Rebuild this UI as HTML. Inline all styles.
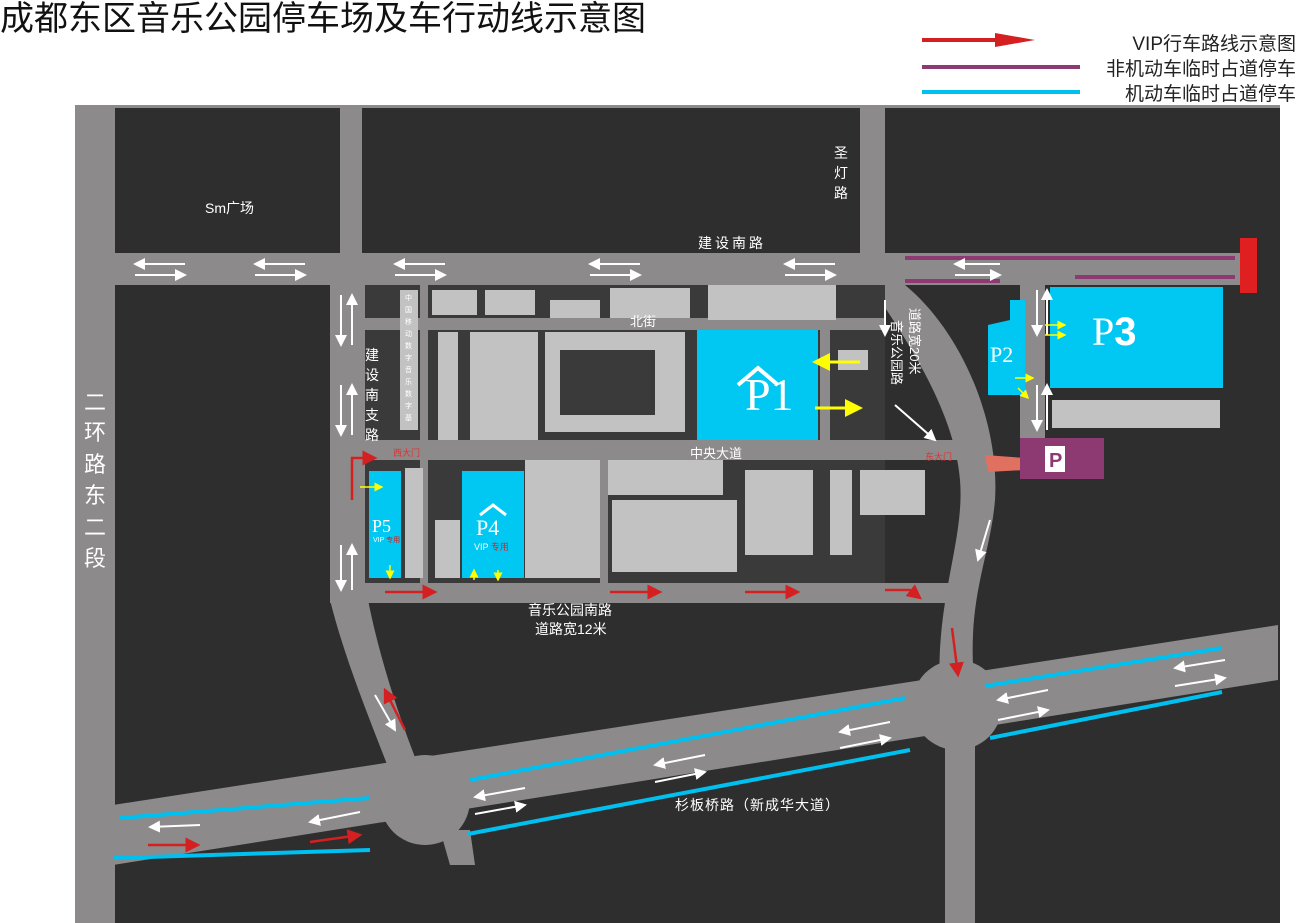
<!DOCTYPE html>
<html><head><meta charset="utf-8"><style>
body{margin:0;background:#fff;}
svg{display:block;font-family:"Liberation Sans","Noto Sans CJK SC",sans-serif;}
</style></head><body>
<svg width="1296" height="923" viewBox="0 0 1296 923" xmlns="http://www.w3.org/2000/svg">
<defs>
<marker id="wa" markerWidth="6" markerHeight="6" refX="5" refY="3" orient="auto"><path d="M0,0L6,3L0,6z" fill="#fff"/></marker>
<marker id="ra" markerWidth="6" markerHeight="6" refX="5" refY="3" orient="auto"><path d="M0,0L6,3L0,6z" fill="#d42020"/></marker>
<marker id="ya" markerWidth="6" markerHeight="6" refX="5" refY="3" orient="auto"><path d="M0,0L6,3L0,6z" fill="#ffff00"/></marker>
</defs>
<text x="0" y="30" font-size="34" fill="#111">成都东区音乐公园停车场及车行动线示意图</text>
<!-- legend -->
<line x1="922" y1="40" x2="1000" y2="40" stroke="#d42020" stroke-width="4"/><path d="M995,33L1035,40L995,47z" fill="#d42020"/>
<text x="1296" y="50" font-size="19" text-anchor="end" fill="#222">VIP行车路线示意图</text>
<line x1="922" y1="67" x2="1080" y2="67" stroke="#8e3a72" stroke-width="4"/>
<text x="1296" y="75" font-size="19" text-anchor="end" fill="#222">非机动车临时占道停车</text>
<line x1="922" y1="92" x2="1080" y2="92" stroke="#00c0f0" stroke-width="4"/>
<text x="1296" y="100" font-size="19" text-anchor="end" fill="#222">机动车临时占道停车</text>
<!-- map bg -->
<rect x="75" y="105" width="1205" height="818" fill="#2e2e2e"/>
<g fill="#8c8a8a">
<rect x="75" y="105" width="1205" height="3"/>
<rect x="75" y="105" width="40" height="818"/>
<rect x="113" y="253" width="1132" height="32"/>
<rect x="340" y="105" width="22" height="160"/>
<rect x="860" y="105" width="25" height="160"/>
<rect x="330" y="285" width="35" height="318"/>
<rect x="330" y="583" width="630" height="20"/>
<path d="M885,285 L905,285 C960,330 1000,420 995,500 C990,560 965,600 975,690 L940,690 C935,600 965,540 960,480 C955,420 920,360 880,300z"/>
<path d="M1020,285 L1045,285 L1045,440 L1020,440z"/>
<path d="M113,805 L1278,625 L1278,680 L113,865z"/>
<path d="M330,600 L368,600 C380,660 400,720 420,770 L395,785 C370,720 345,660 330,600z"/>
<circle cx="425" cy="800" r="45"/>
<circle cx="957" cy="705" r="45"/>
<rect x="945" y="690" width="30" height="233"/>
<path d="M440,830 L470,830 L475,865 L450,865z"/>
<path d="M985,455 L1025,458 L1025,470 L988,472z" fill="#e07060"/>
</g>
<!-- campus -->
<rect x="365" y="285" width="520" height="298" fill="#3a3a3a"/>
<g fill="#8c8a8a">
<rect x="365" y="318" width="520" height="12"/>
<rect x="365" y="440" width="600" height="20"/>
<rect x="420" y="285" width="8" height="298"/>
<rect x="600" y="460" width="8" height="123"/>
<rect x="820" y="330" width="10" height="110"/>
</g>
<g fill="#c2c2c2">
<rect x="400" y="290" width="18" height="140"/>
<rect x="432" y="290" width="45" height="25"/><rect x="485" y="290" width="50" height="25"/>
<rect x="550" y="300" width="50" height="18"/><rect x="610" y="288" width="80" height="30"/>
<rect x="708" y="285" width="128" height="35"/>
<rect x="470" y="332" width="68" height="108"/>
<rect x="545" y="332" width="140" height="100"/>
<rect x="438" y="332" width="20" height="108"/>
<rect x="860" y="470" width="65" height="45"/>
<rect x="830" y="470" width="22" height="85"/>
<rect x="608" y="460" width="115" height="35"/>
<rect x="612" y="500" width="125" height="72"/>
<rect x="745" y="470" width="68" height="85"/>
<rect x="405" y="468" width="18" height="110"/>
<rect x="435" y="520" width="25" height="58"/>
<rect x="525" y="460" width="75" height="118"/>
<rect x="838" y="350" width="30" height="20"/>
<rect x="1052" y="400" width="168" height="28"/>
</g>
<rect x="560" y="350" width="95" height="65" fill="#3a3a3a"/>
<!-- parking -->
<g fill="#00c8f2">
<rect x="697" y="330" width="121" height="110"/>
<rect x="1050" y="287" width="173" height="101"/>
<path d="M1010,300 L1025,300 L1025,395 L988,395 L988,325 L1010,320z"/>
<rect x="462" y="471" width="62" height="107"/>
<rect x="369" y="471" width="32" height="107"/>
</g>
<rect x="1020" y="438" width="84" height="41" fill="#8e3a72"/>
<rect x="1045" y="446" width="20" height="26" fill="#fff"/><text x="1049" y="467" font-size="20" font-weight="bold" fill="#8e3a72">P</text>
<text x="745" y="410" font-size="46" font-family="Liberation Serif" fill="#fff">P1</text>
<path d="M738,385 L758,368 L778,385" fill="none" stroke="#fff" stroke-width="4"/>
<text x="1092" y="345" font-size="40" font-family="Liberation Serif" fill="#fff">P<tspan font-weight="bold" font-family="Liberation Sans">3</tspan></text>
<text x="990" y="362" font-size="22" font-family="Liberation Serif" fill="#fff">P2</text>
<text x="476" y="535" font-size="22" font-family="Liberation Serif" fill="#fff">P4</text>
<path d="M480,515 L493,505 L506,515" fill="none" stroke="#fff" stroke-width="3"/>
<text x="474" y="550" font-size="9" fill="#fff">VIP <tspan fill="#d42020">专用</tspan></text>
<text x="372" y="532" font-size="18" font-family="Liberation Serif" fill="#fff">P5</text>
<text x="373" y="542" font-size="7" fill="#fff">VIP <tspan fill="#d42020">专用</tspan></text>
<!-- purple & red -->
<line x1="905" y1="258" x2="1235" y2="258" stroke="#8e3a72" stroke-width="4"/>
<line x1="905" y1="281" x2="1000" y2="281" stroke="#8e3a72" stroke-width="4"/>
<line x1="1075" y1="277" x2="1235" y2="277" stroke="#8e3a72" stroke-width="4"/>
<rect x="1240" y="238" width="17" height="55" fill="#e02020"/>
<!-- cyan lines -->
<g stroke="#00c0f0" stroke-width="4">
<line x1="120" y1="818" x2="370" y2="798"/><line x1="113" y1="858" x2="370" y2="850"/>
<line x1="470" y1="780" x2="905" y2="698"/><line x1="468" y1="834" x2="910" y2="750"/>
<line x1="985" y1="686" x2="1222" y2="648"/><line x1="990" y1="738" x2="1222" y2="692"/>
</g>
<!-- white arrows -->
<g stroke="#fff" stroke-width="2" marker-end="url(#wa)">
<line x1="185" y1="264" x2="135" y2="264"/><line x1="135" y1="275" x2="185" y2="275"/>
<line x1="305" y1="264" x2="255" y2="264"/><line x1="255" y1="275" x2="305" y2="275"/>
<line x1="445" y1="264" x2="395" y2="264"/><line x1="395" y1="275" x2="445" y2="275"/>
<line x1="640" y1="264" x2="590" y2="264"/><line x1="590" y1="275" x2="640" y2="275"/>
<line x1="835" y1="264" x2="785" y2="264"/><line x1="785" y1="275" x2="835" y2="275"/>
<line x1="1000" y1="264" x2="955" y2="264"/><line x1="955" y1="275" x2="1000" y2="275"/>
<line x1="341" y1="295" x2="341" y2="345"/><line x1="352" y1="345" x2="352" y2="295"/>
<line x1="341" y1="385" x2="341" y2="435"/><line x1="352" y1="435" x2="352" y2="385"/>
<line x1="341" y1="545" x2="341" y2="590"/><line x1="352" y1="590" x2="352" y2="545"/>
<line x1="1037" y1="290" x2="1037" y2="335"/><line x1="1047" y1="335" x2="1047" y2="290"/>
<line x1="1037" y1="385" x2="1037" y2="430"/><line x1="1047" y1="430" x2="1047" y2="385"/>
<line x1="885" y1="300" x2="885" y2="335"/>
<line x1="895" y1="405" x2="935" y2="440"/>
<line x1="990" y1="520" x2="978" y2="560"/>
<line x1="375" y1="695" x2="395" y2="730"/>
<line x1="200" y1="825" x2="150" y2="827"/><line x1="360" y1="812" x2="310" y2="822"/>
<line x1="525" y1="788" x2="475" y2="797"/><line x1="475" y1="814" x2="525" y2="805"/>
<line x1="705" y1="755" x2="655" y2="765"/><line x1="655" y1="782" x2="705" y2="772"/>
<line x1="890" y1="722" x2="840" y2="732"/><line x1="840" y1="748" x2="890" y2="738"/>
<line x1="1048" y1="690" x2="998" y2="700"/><line x1="998" y1="720" x2="1048" y2="710"/>
<line x1="1225" y1="660" x2="1175" y2="668"/><line x1="1175" y1="686" x2="1225" y2="678"/>
</g>
<!-- red arrows -->
<g stroke="#d42020" stroke-width="2.5" marker-end="url(#ra)" fill="none">
<path d="M352,500 L352,458 L375,458"/>
<line x1="385" y1="592" x2="435" y2="592"/><line x1="610" y1="592" x2="660" y2="592"/>
<line x1="745" y1="592" x2="798" y2="592"/><path d="M885,590 L910,590 L920,598"/>
<line x1="952" y1="628" x2="958" y2="675"/>
<line x1="405" y1="730" x2="385" y2="690"/>
<line x1="148" y1="845" x2="198" y2="845"/><line x1="310" y1="842" x2="360" y2="835"/>
</g>
<!-- yellow arrows -->
<g stroke="#ffff00" stroke-width="3" marker-end="url(#ya)">
<line x1="860" y1="362" x2="815" y2="362"/><line x1="815" y1="408" x2="860" y2="408"/>
</g>
<g stroke="#ffff00" stroke-width="1.5" marker-end="url(#ya)">
<line x1="1045" y1="325" x2="1065" y2="325"/><line x1="1045" y1="335" x2="1065" y2="335"/>
<line x1="1015" y1="378" x2="1033" y2="378"/><line x1="1018" y1="388" x2="1028" y2="398"/>
<line x1="360" y1="487" x2="382" y2="487"/><line x1="390" y1="565" x2="390" y2="578"/>
<line x1="474" y1="580" x2="474" y2="570"/><line x1="498" y1="570" x2="498" y2="580"/>
</g>
<!-- labels -->
<g fill="#fff" font-size="14">
<text x="205" y="213">Sm广场</text>
<text x="698" y="248" letter-spacing="3">建设南路</text>
<text x="834" y="158">圣</text><text x="834" y="178">灯</text><text x="834" y="198">路</text>
<text x="365" y="360">建</text><text x="365" y="380">设</text><text x="365" y="400">南</text><text x="365" y="420">支</text><text x="365" y="440">路</text>
<text x="630" y="326" font-size="13">北街</text>
<text x="690" y="458" font-size="13">中央大道</text>
<text x="528" y="615">音乐公园南路</text><text x="535" y="634">道路宽12米</text>
<text x="675" y="810" letter-spacing="1">杉板桥路（新成华大道）</text>
<text x="892" y="320" font-size="13" transform="rotate(90 892 320)">音乐公园路</text>
<text x="910" y="308" font-size="13" transform="rotate(90 910 308)">道路宽20米</text>
</g>
<g fill="#fff" font-size="22">
<text x="84" y="410">二</text><text x="84" y="440">环</text><text x="84" y="472">路</text><text x="84" y="503">东</text><text x="84" y="535">二</text><text x="84" y="566">段</text>
</g>
<text x="393" y="456" font-size="9" fill="#e03030">西大门</text>
<text x="925" y="460" font-size="9" fill="#e03030">东大门</text>
<g fill="#fff" font-size="7">
<text x="405" y="300">中</text><text x="405" y="312">国</text><text x="405" y="324">移</text><text x="405" y="336">动</text><text x="405" y="348">数</text><text x="405" y="360">字</text><text x="405" y="372">音</text><text x="405" y="384">乐</text><text x="405" y="396">数</text><text x="405" y="408">字</text><text x="405" y="420">基</text>
</g>
</svg>
</body></html>
